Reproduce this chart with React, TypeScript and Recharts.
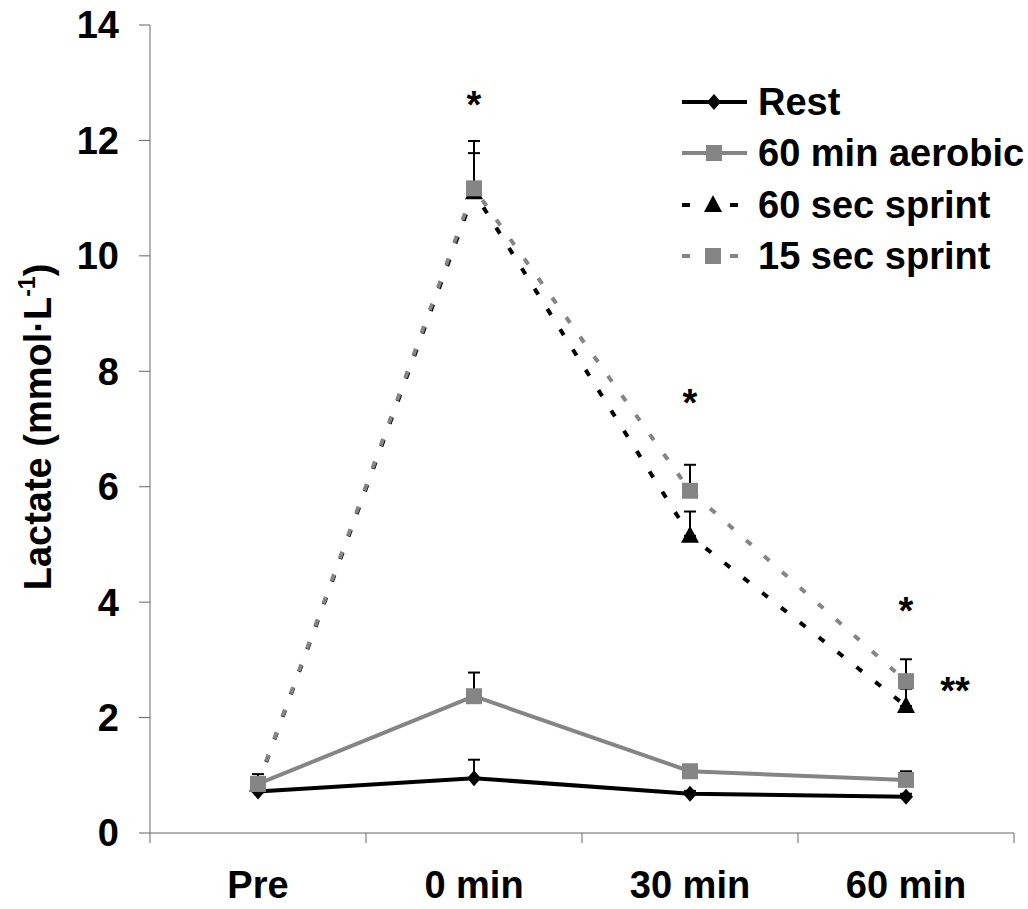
import React from 'react';
import { LineChart, Line, XAxis, YAxis, ErrorBar, Legend, ReferenceDot } from 'recharts';

const FONT = '"Liberation Sans", Arial, Helvetica, sans-serif';

// time points
const categories = ['Pre', '0 min', '30 min', '60 min'];

// lactate means (mmol/L) and upper SD per condition
const rest = [0.72, 0.95, 0.68, 0.63];
const restSd = [0.05, 0.32, 0.05, 0.05];
const aerobic = [0.85, 2.37, 1.07, 0.92];
const aerobicSd = [0.17, 0.41, 0.08, 0.15];
const sprint60 = [0.84, 11.1, 5.15, 2.2];
const sprint60Sd = [0.1, 0.68, 0.42, 0.3];
const sprint15 = [0.85, 11.17, 5.93, 2.63];
const sprint15Sd = [0.1, 0.82, 0.45, 0.38];

const yTicks = [0, 2, 4, 6, 8, 10, 12, 14];

// significance marks
const marks = [
  { x: '0 min', y: 12.77, text: '*', side: 'above' },
  { x: '30 min', y: 7.61, text: '*', side: 'above' },
  { x: '60 min', y: 4.01, text: '*', side: 'above' },
  { x: '60 min', y: 2.61, text: '**', side: 'right' },
];

const data = categories.map((time, i) => ({
  time,
  rest: rest[i],
  restSd: [0, restSd[i]],
  aerobic: aerobic[i],
  aerobicSd: [0, aerobicSd[i]],
  sprint60: sprint60[i],
  sprint60Sd: [0, sprint60Sd[i]],
  sprint15: sprint15[i],
  sprint15Sd: [0, sprint15Sd[i]],
}));

const GRAY = '#858585';

const Marker = ({ shape, cx, cy, fill }: any) => {
  if (cx == null || cy == null) return null;
  if (shape === 'diamond')
    return <path d={`M${cx},${cy - 8}L${cx + 7},${cy}L${cx},${cy + 8}L${cx - 7},${cy}Z`} fill={fill} />;
  if (shape === 'triangle')
    return <path d={`M${cx},${cy - 10}L${cx + 9},${cy + 7}L${cx - 9},${cy + 7}Z`} fill={fill} />;
  return <rect x={cx - 8} y={cy - 8} width={16} height={16} fill={fill} />;
};

const series = [
  { key: 'rest', name: 'Rest', color: '#000', dash: undefined, shape: 'diamond' },
  { key: 'aerobic', name: '60 min aerobic', color: GRAY, dash: undefined, shape: 'square' },
  { key: 'sprint60', name: '60 sec sprint', color: '#000', dash: '7 17', shape: 'triangle' },
  { key: 'sprint15', name: '15 sec sprint', color: GRAY, dash: '7 17', shape: 'square' },
];

const XTick = (props: any) => {
  const { x, y, payload, index } = props;
  const half = payload.offset || 0;
  return (
    <g>
      <line x1={x - half} y1={y} x2={x - half} y2={y + 10} stroke="#666" strokeWidth={1} />
      {index === categories.length - 1 && (
        <line x1={x + half} y1={y} x2={x + half} y2={y + 10} stroke="#666" strokeWidth={1} />
      )}
      <text x={x} y={y + 65} textAnchor="middle" fontSize={38} fontWeight="bold" fontFamily={FONT} fill="#000">
        {payload.value}
      </text>
    </g>
  );
};

const YLabel = (props: any) => {
  const vb = props.viewBox || {};
  const cy = (vb.y || 0) + (vb.height || 0) / 2 - 2;
  return (
    <text
      transform={`translate(51,${cy}) rotate(-90)`}
      textAnchor="middle"
      fontSize={38}
      fontWeight="bold"
      fontFamily={FONT}
      fill="#000"
    >
      Lactate (mmol·L
      <tspan fontSize={23} dy={-16}>-1</tspan>
      <tspan dy={16}>)</tspan>
    </text>
  );
};

const LegendBox = () => (
  <div style={{ fontFamily: FONT, fontWeight: 'bold', fontSize: 38 }}>
    {series.map((s) => (
      <div key={s.key} style={{ display: 'flex', alignItems: 'center', height: 51.5 }}>
        <svg width={76} height={30}>
          {s.dash ? (
            <g stroke={s.color} strokeWidth={4}>
              <line x1={0} y1={15} x2={8} y2={15} />
              <line x1={48} y1={15} x2={56} y2={15} />
            </g>
          ) : (
            <line x1={0} y1={15} x2={65} y2={15} stroke={s.color} strokeWidth={4} />
          )}
          <Marker shape={s.shape} cx={s.dash ? 31 : 32} cy={15} fill={s.color} />
        </svg>
        <span style={{ color: '#000', lineHeight: 1 }}>{s.name}</span>
      </div>
    ))}
  </div>
);

const MarkLabel = (side: string, text: string) => (props: any) => {
  const vb = props.viewBox || {};
  const cx = (vb.x || 0) + (vb.width || 0) / 2 + (side === 'right' ? 49 : 0);
  const cy = (vb.y || 0) + (vb.height || 0) / 2;
  return (
    <text x={cx} y={cy + 22} textAnchor="middle" fontSize={38} fontWeight="bold" fontFamily={FONT} fill="#000">
      {text}
    </text>
  );
};

export default function App() {
  return (
    <div style={{ position: 'absolute', left: 0, top: 0, background: '#fff' }}>
      <LineChart width={1028} height={909} data={data} margin={{ top: 25, right: 14, left: 0, bottom: 0 }}>
        <XAxis
          dataKey="time"
          scale="band"
          height={76}
          tickLine={false}
          tickSize={0}
          tickMargin={0}
          axisLine={{ stroke: '#666', strokeWidth: 1 }}
          tick={<XTick />}
          interval={0}
        />
        <YAxis
          domain={[0, 14]}
          ticks={yTicks}
          width={150}
          tickSize={11}
          tickMargin={20}
          axisLine={{ stroke: '#666', strokeWidth: 1 }}
          tickLine={{ stroke: '#666', strokeWidth: 1 }}
          tick={{ fill: '#000', fontSize: 38, fontWeight: 'bold', fontFamily: FONT }}
          label={<YLabel />}
        />
        <Legend
          layout="vertical"
          align="center"
          verticalAlign="middle"
          content={<LegendBox />}
          wrapperStyle={{ top: 76, left: 682, width: 346 }}
        />
        {series.map((s) => (
          <Line
            key={s.key}
            dataKey={s.key}
            name={s.name}
            stroke={s.color}
            strokeWidth={4}
            strokeDasharray={s.dash}
            isAnimationActive={false}
            dot={(p: any) => <Marker key={`${s.key}-${p.index}`} shape={s.shape} cx={p.cx} cy={p.cy} fill={s.color} />}
            activeDot={false}
          >
            <ErrorBar dataKey={`${s.key}Sd`} direction="y" width={6} stroke="#000" strokeWidth={2} isAnimationActive={false} />
          </Line>
        ))}
        {marks.map((m, i) => (
          <ReferenceDot key={i} x={m.x} y={m.y} r={0} stroke="none" fill="none" label={MarkLabel(m.side, m.text)} />
        ))}
      </LineChart>
    </div>
  );
}
